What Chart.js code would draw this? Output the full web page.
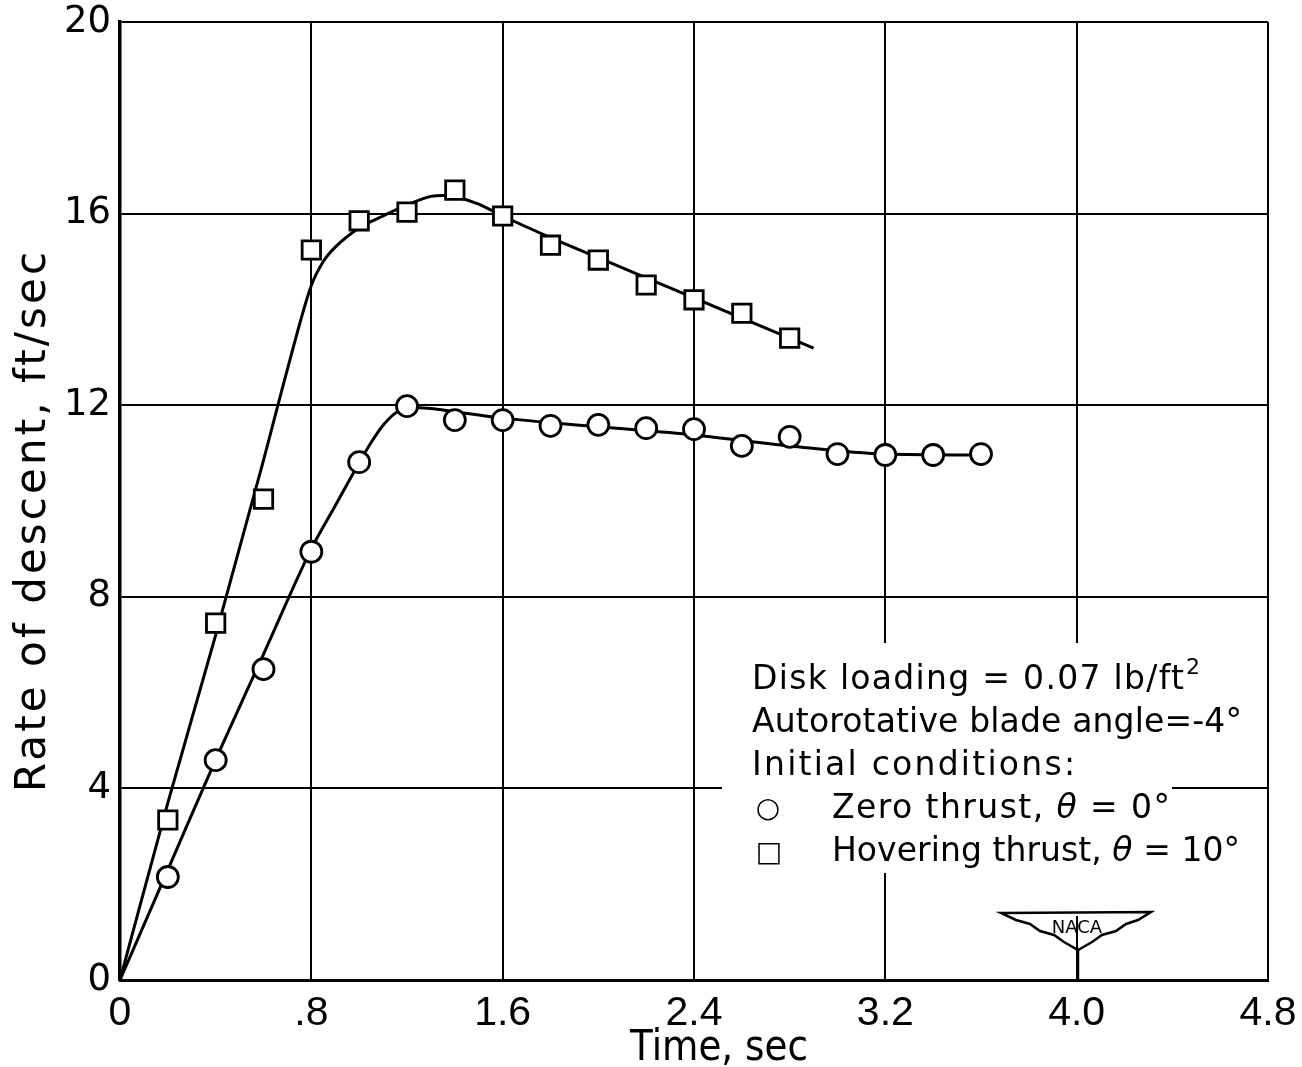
<!DOCTYPE html>
<html><head><meta charset="utf-8">
<script src="https://cdn.jsdelivr.net/npm/chart.js@4.4.0/dist/chart.umd.min.js"></script>
<style>html,body{margin:0;padding:0;background:#fff;overflow:hidden}#wrap{width:1302px;height:1067px;}</style>
</head><body><div id="wrap"><canvas id="c" width="1302" height="1067"></canvas></div>
<script>
// ---- data ----
const zeroTimes = [0.2,0.4,0.6,0.8,1.0,1.2,1.4,1.6,1.8,2.0,2.2,2.4,2.6,2.8,3.0,3.2,3.4,3.6];
const zeroRates = [2.15,4.59,6.49,8.94,10.81,11.98,11.69,11.69,11.57,11.59,11.52,11.50,11.15,11.34,10.98,10.96,10.96,10.98];
const hoverTimes = [0.2,0.4,0.6,0.8,1.0,1.2,1.4,1.6,1.8,2.0,2.2,2.4,2.6,2.8];
const hoverRates = [3.34,7.45,10.04,15.24,15.85,16.03,16.49,15.95,15.34,15.03,14.51,14.20,13.92,13.40];
const zeroCurveTimes = [0,0.2,0.4,0.6,0.8,0.9,1.0,1.05,1.1,1.15,1.2,1.3,1.4,1.6,2.0,2.4,2.8,3.2,3.6];
const zeroCurveRates = [0,2.3,4.6,6.8,9.0,9.9,10.8,11.22,11.58,11.83,11.95,11.93,11.86,11.73,11.55,11.38,11.15,10.98,10.96];
const hoverCurveTimes = [0,0.2,0.4,0.6,0.7,0.8,0.85,0.9,1.0,1.1,1.2,1.3,1.35,1.4,1.5,1.6,1.8,2.0,2.2,2.4,2.6,2.8,2.9];
const hoverCurveRates = [0,3.7,7.2,10.85,12.75,14.5,15.0,15.3,15.7,15.95,16.18,16.36,16.38,16.35,16.2,15.95,15.5,15.08,14.66,14.24,13.82,13.4,13.19];
const xTicks = [0,0.8,1.6,2.4,3.2,4.0,4.8];
const xTickLabels = ['0','.8','1.6','2.4','3.2','4.0','4.8'];
const yTicks = [0,4,8,12,16,20];
const yTickLabels = ['0','4','8','12','16','20'];
const xTitle = 'Time, sec';
const yTitle = 'Rate of descent, ft/sec';
const noteLines = ['Disk loading = 0.07 lb/ft', 'Autorotative blade angle=-4°', 'Initial conditions:'];
const seriesNames = ['Zero thrust, ', 'Hovering thrust, '];
const seriesAngles = [' = 0°', ' = 10°'];

const toPts = (xs, ys) => xs.map((x, i) => ({x: x, y: ys[i]}));

const cvs = document.getElementById('c');
const ctx = cvs.getContext('2d');
const hasLS = ('letterSpacing' in CanvasRenderingContext2D.prototype);
const SANS = '"DejaVu Sans", "Liberation Sans", sans-serif';

// draw a list of runs [{t, font}] from x to x+target on baseline y
function drawRuns(c, runs, x, y, target) {
  c.save();
  c.textAlign = 'left';
  c.textBaseline = 'alphabetic';
  if (hasLS) c.letterSpacing = '0px';
  let total = 0, n = 0;
  runs.forEach(r => { c.font = r.font; r.w = c.measureText(r.t).width; total += r.w; n += r.t.length; });
  if (total > target || !hasLS) {
    const sx = target / total;
    c.translate(x, y); c.scale(sx, 1);
    let cx = 0;
    runs.forEach(r => { c.font = r.font; c.fillText(r.t, cx, 0); cx += r.w; });
  } else {
    const ls = (target - total) / Math.max(1, n - 1);
    c.letterSpacing = ls + 'px';
    let cx = x;
    runs.forEach(r => { c.font = r.font; c.fillText(r.t, cx, y); cx += r.w + ls * r.t.length; });
  }
  c.restore();
}

const textPlugin = {
  id: 'texts',
  afterDraw(chart) {
    const c = chart.ctx;
    c.save();
    c.fillStyle = '#000';
    // y-axis title
    c.save();
    c.translate(30, 522);
    c.rotate(-Math.PI / 2);
    drawRuns(c, [{t: yTitle, font: '42px ' + SANS}], -270, 15, 540);
    c.restore();
    // x-axis title
    drawRuns(c, [{t: xTitle, font: '42px ' + SANS}], 630, 1060, 178);

    // white panel behind the note block (hides grid lines there)
    c.fillStyle = '#fff';
    c.fillRect(722, 643, 450, 230);
    c.fillRect(1068, 870, 20, 46);
    c.fillStyle = '#000';
    const F = '33px ' + SANS;
    const FI = 'italic 33px ' + SANS;
    drawRuns(c, [{t: noteLines[0], font: F}], 752, 689, 432);
    c.font = '22px ' + SANS; c.textAlign = 'left';
    c.fillText('2', 1186, 674);
    drawRuns(c, [{t: noteLines[1], font: F}], 752, 732, 490);
    drawRuns(c, [{t: noteLines[2], font: F}], 752, 775, 323);
    c.font = '28px ' + SANS; c.textAlign = 'center';
    c.fillText('○', 768, 817);
    c.fillText('□', 769, 861);
    drawRuns(c, [{t: seriesNames[0], font: F}, {t: 'θ', font: FI}, {t: seriesAngles[0], font: F}], 832, 818, 338);
    drawRuns(c, [{t: seriesNames[1], font: F}, {t: 'θ', font: FI}, {t: seriesAngles[1], font: F}], 832, 861, 408);

    // NACA emblem
    c.lineWidth = 2.5; c.strokeStyle = '#000';
    c.beginPath();
    c.moveTo(1001, 913); c.lineTo(1151, 912);
    c.lineTo(1138, 920); c.lineTo(1126, 924); c.lineTo(1116, 931); c.lineTo(1102, 935);
    c.lineTo(1092, 942); c.lineTo(1078, 950);
    c.lineTo(1064, 942); c.lineTo(1054, 935); c.lineTo(1040, 931); c.lineTo(1030, 924);
    c.lineTo(1016, 920); c.closePath();
    c.stroke();
    c.beginPath(); c.moveTo(1078, 950); c.lineTo(1078, 980); c.stroke();
    c.font = '18px ' + SANS; c.textAlign = 'center'; c.fillStyle = '#000';
    c.fillText('NACA', 1077, 933);
    c.restore();
  }
};

new Chart(ctx, {
  type: 'scatter',
  data: {
    datasets: [
      {label: 'Zero thrust', data: toPts(zeroTimes, zeroRates), pointStyle: 'circle', pointRadius: 10.5,
       pointBorderWidth: 2.8, pointBackgroundColor: '#fff', pointBorderColor: '#000', showLine: false, order: 1},
      {label: 'Hovering thrust', data: toPts(hoverTimes, hoverRates), pointStyle: 'rect', pointRadius: 13,
       pointBorderWidth: 2.8, pointBackgroundColor: '#fff', pointBorderColor: '#000', showLine: false, order: 1},
      {label: 'Zero thrust fairing', data: toPts(zeroCurveTimes, zeroCurveRates), showLine: true, pointRadius: 0,
       borderColor: '#000', borderWidth: 3, cubicInterpolationMode: 'monotone', order: 2},
      {label: 'Hovering thrust fairing', data: toPts(hoverCurveTimes, hoverCurveRates), showLine: true, pointRadius: 0,
       borderColor: '#000', borderWidth: 3, cubicInterpolationMode: 'monotone', order: 2}
    ]
  },
  options: {
    responsive: false, animation: false, devicePixelRatio: 1,
    layout: {padding: {left: 0, right: 34, top: 22, bottom: 0}},
    plugins: {legend: {display: false}, tooltip: {enabled: false}},
    scales: {
      x: {
        type: 'linear', min: 0, max: 4.8,
        afterBuildTicks: s => { s.ticks = xTicks.map(v => ({value: v})); },
        afterFit: s => { s.height = 87; s.paddingLeft = 0; s.paddingRight = 0; },
        ticks: {callback: (v, i) => xTickLabels[i], color: '#000', padding: 9, maxRotation: 0, autoSkip: false,
                font: {family: '"Liberation Sans", sans-serif', size: 41}},
        grid: {color: '#000', lineWidth: 2, drawTicks: false},
        border: {color: '#000', width: 3}
      },
      y: {
        type: 'linear', min: 0, max: 20,
        afterBuildTicks: s => { s.ticks = yTicks.map(v => ({value: v})); },
        afterFit: s => { s.width = 120; s.paddingTop = 0; s.paddingBottom = 0; },
        ticks: {callback: (v, i) => yTickLabels[i], color: '#000', padding: 9,
                font: {family: SANS, size: 37}},
        grid: {color: '#000', lineWidth: 2, drawTicks: false},
        border: {color: '#000', width: 3.5}
      }
    }
  },
  plugins: [textPlugin]
});
</script>
</body></html>
